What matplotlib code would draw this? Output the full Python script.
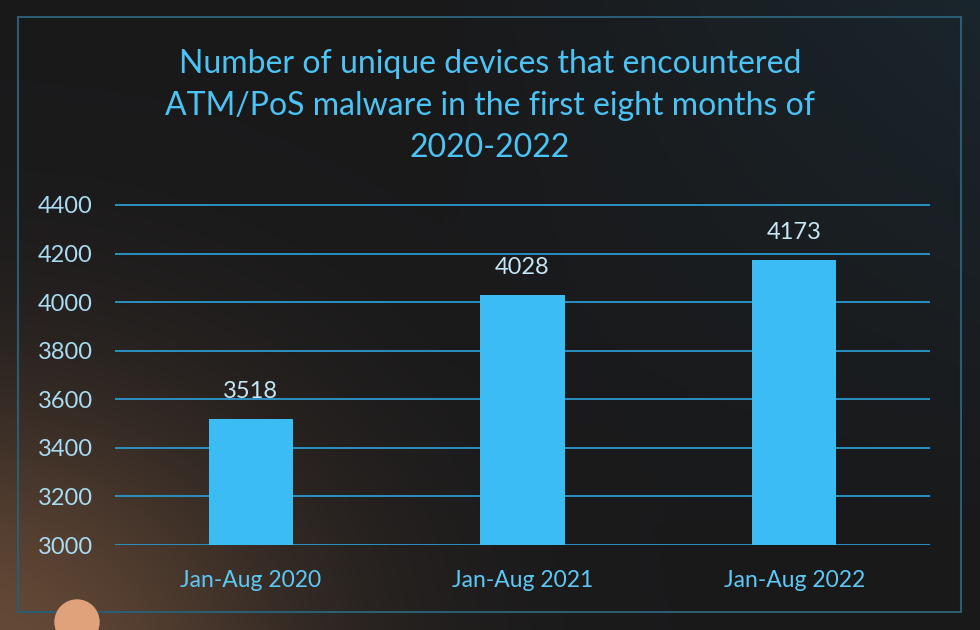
import numpy as np
import matplotlib
matplotlib.use('Agg')
from matplotlib import pyplot as plt
from matplotlib.patches import Rectangle, Ellipse

# data
periods = ['Jan-Aug 2020', 'Jan-Aug 2021', 'Jan-Aug 2022']
devices = [3518, 4028, 4173]
yticks = [3000, 3200, 3400, 3600, 3800, 4000, 4200, 4400]

plt.rcParams['font.family'] = ['Lato', 'DejaVu Sans']

fig = plt.figure(figsize=(9.8, 6.3), dpi=100)

# background: dark with warm glow bottom-left, teal tint top-right
bg = fig.add_axes([0, 0, 1, 1], zorder=-10)
h, w = 315, 490
yy, xx = np.mgrid[0:h, 0:w]
xn = xx / w
yn = yy / h  # 0 top, 1 bottom
base = np.array([0.10, 0.10, 0.105])
img = np.ones((h, w, 3)) * base
warm = np.exp(-(((xn + 0.02) / 0.32) ** 2 + ((yn - 1.05) / 0.42) ** 2))
img += warm[..., None] * np.array([0.30, 0.19, 0.11])
teal = np.clip((xn - 0.45) * 1.4, 0, 1) * np.clip(1.0 - yn * 1.2, 0, 1)
img += teal[..., None] * np.array([0.0, 0.06, 0.09])
bg.imshow(np.clip(img, 0, 1), aspect='auto', extent=[0, 1, 0, 1])
bg.set_xlim(0, 1)
bg.set_ylim(0, 1)
bg.axis('off')

# frame and decorative sphere
bg.add_patch(Rectangle((18 / 980, 1 - 612 / 630), 943 / 980, 595 / 630,
                       fill=False, edgecolor='#2b5d72', linewidth=1.5))
bg.add_patch(Ellipse((77 / 980, 1 - 622 / 630), 44 / 980, 44 / 630,
                     color='#e0a27a', zorder=3))

fig.text(0.5, 1 - 106 / 630, 'Number of unique devices that encountered\n'
         'ATM/PoS malware in the first eight months of\n2020-2022',
         ha='center', va='center', color='#4cc3f5', fontsize=23, linespacing=1.52)

ax = fig.add_axes([115 / 980, 1 - 545 / 630, 815 / 980, 341 / 630])
ax.set_facecolor('none')
x = np.arange(len(periods))
bars = ax.bar(x, devices, width=0.31, color='#3bbdf3', zorder=3)
for xi, v in zip(x, devices):
    ax.text(xi, v + 70, str(v), ha='center', va='bottom', color='#c5e6f5', fontsize=17)

ax.set_xlim(-0.5, 2.5)
ax.set_ylim(3000, 4404)
ax.set_yticks(yticks)
ax.set_xticks(x)
ax.set_xticklabels(periods)
ax.grid(axis='y', color='#2a90c2', linewidth=1.4, zorder=0)
for s in ax.spines.values():
    s.set_visible(False)
ax.tick_params(length=0, labelsize=17)
ax.tick_params(axis='y', colors='#a9dcf2', pad=16)
ax.tick_params(axis='x', colors='#5ec8f5', pad=18, labelsize=16.5)

fig.savefig('out.png', dpi=100, facecolor=fig.get_facecolor())
